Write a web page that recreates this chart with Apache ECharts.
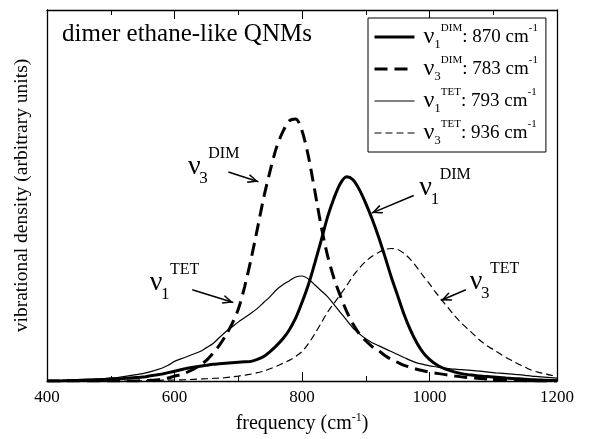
<!DOCTYPE html>
<html><head><meta charset="utf-8">
<script src="https://cdn.jsdelivr.net/npm/echarts@6/dist/echarts.min.js"></script>
<style>html,body{margin:0;padding:0;background:#fff}#c{width:590px;height:439px}</style>
</head><body><div id="c"></div>
<script>
// frequency grid (cm^-1)
const freqs = [];
for (let f = 400; f <= 1200; f += 10) freqs.push(f);

// vibrational density (arbitrary units)
const nu1Dim = [0,0,0,0.3,0.5,0.7,1,1,1.2,1.5,2,2,2.5,3,3.5,4,5,6,7,8.5,10,11.5,13,14,15,16,17,17.5,18,18.5,19,19.5,20,22,25,30,36,43,52,64,80,98,120,143,167,186,201,208,205,195,181,165,147,127,106,87,68,52,39,29,22,17,13.5,11,9,7.5,6.5,5.8,5,4.5,4,3.5,3,2.6,2.2,1.8,1.4,1.1,0.8,0.5,0.3];
const nu3Dim = [0,0,0,0,0,0,0,0,0,0,0,0,0,0,0,0.3,0.6,1,2,3,5,6.5,9,12,16,21,28,36,46,58,73,96,124,155,187,214,238,254,265,267,255,229,194,158,128,105,87,71,58,48,41,35,31,26,22,19,16,14,12,10.5,9,8,7,6,5,4.2,3.5,3,2.5,2,1.5,1.2,1,0.7,0.5,0.3,0.2,0.1,0,0,0];
const nu1Tet = [0,0.2,0.4,0.7,1,1.2,1.5,1.8,2,2.5,3,3.5,4.5,5.5,6.5,7.5,9,11,13,16,20,22.5,25,27.5,30,34,38,44,50,55,60,64.5,69,74,80,86,93,98,102,106,107,104,98,92,86,78,70,62,54,48,43,39,36,33,30,27,24,21,18.5,17,15.5,14.5,13.5,12.7,12,11.5,11,10.5,10,9.2,8.5,8,7.5,7,6.5,5.8,5,4.5,4,3.5,3];
const nu3Tet = [0,0,0,0,0,0,0,0,0,0,0,0,0,0,0,0.3,0.5,0.6,0.8,0.9,1,1.2,1.4,1.7,2,2.3,2.6,3,3.5,4.2,5,6,7,8.5,10,12.5,15,18,21,25,30,38,48,59,70,79,88,97,107,115,122,127,131,134,135,134,130,124,116,107,99,90,82,74,66,59,53,47,41,36,32,28,24,20.5,17,14,11,9,7.5,6,5];

const xTicks = [400, 600, 800, 1000, 1200];
const seriesNames = ['ν1 DIM: 870 cm-1', 'ν3 DIM: 783 cm-1', 'ν1 TET: 793 cm-1', 'ν3 TET: 936 cm-1'];
const legendRich = [
  '{g|}{nu|ν}{sub|1}{sup|DIM}{t|: 870 cm}{sup|-1}',
  '{g|}{nu|ν}{sub|3}{sup|DIM}{t|: 783 cm}{sup|-1}',
  '{g|}{nu|ν}{sub|1}{sup|TET}{t|: 793 cm}{sup|-1}',
  '{g|}{nu|ν}{sub|3}{sup|TET}{t|: 936 cm}{sup|-1}'
];
// annotations: label position (freq, value), subscript, superscript, arrow from/to
const annotations = [
  {pos: [631, 216], sub: '3', sup: 'DIM', from: [684.5, 213], to: [731.6, 203]},
  {pos: [571, 98], sub: '1', sup: 'TET', from: [627.9, 93], to: [692.3, 80]},
  {pos: [994, 195], sub: '1', sup: 'DIM', from: [975.2, 189], to: [909.2, 171]},
  {pos: [1073, 99], sub: '3', sup: 'TET', from: [1057, 93], to: [1017.7, 82]}
];

const FONT = 'Liberation Serif, Times New Roman, serif';
const pair = arr => freqs.map((f, i) => [f, arr[i]]);
const chevron = 'path://M5,-10 L5,-10 M5,0 L10,9 L8.6,9.8 L5,3.2 L1.4,9.8 L0,9 Z';

const chart = echarts.init(document.getElementById('c'), null, {renderer: 'canvas'});
const baseAxisX = {
  type: 'value', min: 400, max: 1200, interval: 200,
  axisLine: {show: true, onZero: false, lineStyle: {color: '#000', width: 1.3}},
  axisTick: {show: true, inside: true, length: 9, lineStyle: {color: '#000', width: 1}},
  minorTick: {show: true, splitNumber: 2, length: 5, lineStyle: {color: '#000', width: 1}},
  splitLine: {show: false}, minorSplitLine: {show: false}
};
const styles = [
  {width: 3, type: 'solid'},
  {width: 3, type: [13, 7]},
  {width: 1.2, type: 'solid'},
  {width: 1.2, type: [7, 4]}
];
const valueSets = [nu1Dim, nu3Dim, nu1Tet, nu3Tet];
const series = seriesNames.map((name, k) => ({
  name, type: 'line', data: pair(valueSets[k]), showSymbol: false, symbol: 'none',
  smooth: 0.3, lineStyle: {color: '#000', width: styles[k].width, type: styles[k].type},
  itemStyle: {color: '#000'}, clip: true, silent: true
}));
series[0].markLine = {
  silent: true, symbol: ['none', chevron], symbolSize: [9, 22],
  label: {show: false}, lineStyle: {color: '#000', width: 1.5, type: 'solid'},
  emphasis: {disabled: true},
  data: annotations.map(a => [{coord: a.from}, {coord: a.to}])
};

chart.setOption({
  animation: false,
  backgroundColor: '#fff',
  title: {text: 'dimer ethane-like QNMs', left: 62, top: 22, padding: 0,
    textStyle: {fontFamily: FONT, fontSize: 25, fontWeight: 'normal', color: '#000'}},
  grid: {left: 47, right: 33, top: 10, bottom: 51, containLabel: false},
  legend: {
    orient: 'vertical', left: 368, top: 18, itemWidth: 40, itemHeight: 14, itemGap: 4,
    padding: [5, 8, 5, 5], borderColor: '#000', borderWidth: 1, backgroundColor: '#fff',
    selectedMode: false,
    data: seriesNames.map((name, k) => ({name,
      itemStyle: {opacity: 0, borderWidth: 0},
      lineStyle: {color: '#000', width: styles[k].width, type: styles[k].type}})),
    itemStyle: {opacity: 0, borderWidth: 0},
    formatter: n => legendRich[seriesNames.indexOf(n)],
    textStyle: {fontFamily: FONT, color: '#000', rich: {
      g: {width: 4, lineHeight: 28},
      nu: {fontFamily: FONT, fontSize: 24, lineHeight: 28, verticalAlign: 'middle'},
      sub: {fontFamily: FONT, fontSize: 13, lineHeight: 11, verticalAlign: 'bottom'},
      sup: {fontFamily: FONT, fontSize: 11, lineHeight: 14, verticalAlign: 'top'},
      t: {fontFamily: FONT, fontSize: 19, lineHeight: 28, verticalAlign: 'middle'}
    }}
  },
  xAxis: [
    Object.assign({}, baseAxisX, {position: 'bottom',
      name: 'frequency (cm{s|-1})', nameLocation: 'middle', nameGap: 31,
      nameTextStyle: {fontFamily: FONT, fontSize: 20, color: '#000',
        rich: {s: {fontFamily: FONT, fontSize: 12, verticalAlign: 'top', lineHeight: 24}}},
      axisLabel: {show: true, margin: 8, fontFamily: FONT, fontSize: 17, color: '#000',
        formatter: v => xTicks.includes(v) ? String(v) : ''}}),
    Object.assign({}, baseAxisX, {position: 'top', axisLabel: {show: false}})
  ],
  yAxis: [
    {type: 'value', min: 0, max: 378, position: 'left',
      name: 'vibrational density (arbitrary units)', nameLocation: 'middle', nameGap: 15,
      nameTextStyle: {fontFamily: FONT, fontSize: 19.5, color: '#000'},
      axisLine: {show: true, lineStyle: {color: '#000', width: 1.3}},
      axisTick: {show: false}, axisLabel: {show: false}, splitLine: {show: false}},
    {type: 'value', min: 0, max: 378, position: 'right',
      axisLine: {show: true, lineStyle: {color: '#000', width: 1.3}},
      axisTick: {show: false}, axisLabel: {show: false}, splitLine: {show: false}}
  ],
  series
});

// annotation labels placed through the axes
const els = [];
annotations.forEach(a => {
  const p = chart.convertToPixel({xAxisIndex: 0, yAxisIndex: 0}, a.pos);
  els.push({type: 'text', x: p[0], y: p[1] - 2, silent: true,
    style: {text: 'ν', fontFamily: FONT, fontSize: 28, fill: '#000', align: 'center', verticalAlign: 'middle'}});
  els.push({type: 'text', x: p[0] + 5, y: p[1] + 10, silent: true,
    style: {text: a.sub, fontFamily: FONT, fontSize: 17, fill: '#000', align: 'left', verticalAlign: 'middle'}});
  els.push({type: 'text', x: p[0] + 14, y: p[1] - 15, silent: true,
    style: {text: a.sup, fontFamily: FONT, fontSize: 16, fill: '#000', align: 'left', verticalAlign: 'middle'}});
});
chart.setOption({graphic: els});
</script>
</body></html>
